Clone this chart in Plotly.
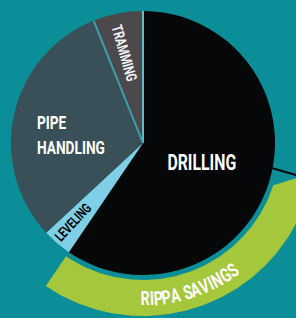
import numpy as np
import plotly.graph_objects as go

# ---- data ----
categories = ["DRILLING", "LEVELING", "PIPE HANDLING", "TRAMMING"]
shares = [59.5, 3.6, 30.8, 6.1]          # % of drilling cycle
savings_label = "RIPPA SAVINGS"
savings_share = [29.5]                   # % of cycle saved (taken off the drilling slice)

# ---- layout constants ----
W, H = 296, 318
CX, CY, R = 143, 143, 132
BG = "#0b8e97"
GREEN = "#a5c73b"
slice_colors = ["#060708", "#7fd0e6", "#3a5058", "#4b494c"]
FONT = "Roboto, sans-serif"
SQ = 0.72   # horizontal squeeze of the lettering (condensed display face)

fig = go.Figure()

fig.add_trace(go.Pie(
    labels=categories, values=shares, sort=False, direction="clockwise", rotation=0,
    marker=dict(colors=slice_colors, line=dict(width=0)),
    textinfo="none", hoverinfo="skip", showlegend=False,
    domain=dict(x=[(CX - R) / W, (CX + R) / W], y=[1 - (CY + R) / H, 1 - (CY - R) / H]),
))

# slice separators (only the two visible ones): drilling|tramming and pipe handling|tramming
cum_deg = np.cumsum(shares) / sum(shares) * 360
for ang, col in [(0.0, "#62bcc8"), (cum_deg[2], "#3aa2ad")]:
    t = np.radians(ang)
    fig.add_shape(type="line", xref="x", yref="y", layer="above",
                  x0=CX, y0=CY, x1=CX + R * np.sin(t), y1=CY - R * np.cos(t),
                  line=dict(color=col, width=2))

# ---- savings band (derived from the shares) ----
end_deg = shares[0] / sum(shares) * 360
start_deg = end_deg - savings_share[0] / 100 * 360
R_IN, R_OUT, CUT = R + 5, R + 41, 8
th_in = np.radians(np.linspace(start_deg, end_deg, 150))
th_out = np.radians(np.linspace(end_deg, start_deg - CUT, 150))
bx = np.concatenate([CX + R_IN * np.sin(th_in), CX + R_OUT * np.sin(th_out)])
by = np.concatenate([CY - R_IN * np.cos(th_in), CY - R_OUT * np.cos(th_out)])
fig.add_trace(go.Scatter(x=bx, y=by, fill="toself", fillcolor=GREEN, mode="lines",
                         line=dict(width=0, color=GREEN), hoverinfo="skip", showlegend=False))

# leader line from pie edge
LEAD = np.radians(101)
x0, y0 = CX + R * np.sin(LEAD), CY - R * np.cos(LEAD)
fig.add_trace(go.Scatter(x=[x0, W], y=[y0, y0 + (W - x0) * 0.29], mode="lines",
                         line=dict(color="#080808", width=2), hoverinfo="skip", showlegend=False))

# ---- slice labels ----
label_style = {
    "DRILLING": dict(x=202, y=162, angle=0, size=22, color="white", anchor="center", wrap=False),
    "PIPE HANDLING": dict(x=35, y=134.5, angle=0, size=19, color="white", anchor="left", wrap=True),
    "TRAMMING": dict(x=124, y=53, angle=74, size=15, color="#f2f2f2", anchor="center", wrap=False),
    "LEVELING": dict(x=73, y=222, angle=-47, size=14, color="black", anchor="center", wrap=False),
}
for cat in categories:
    s = label_style[cat]
    txt = "<br>".join(cat.split(" ")) if s["wrap"] else cat
    fig.add_annotation(x=s["x"], y=s["y"], text=txt, textangle=s["angle"], showarrow=False,
                       xanchor=s["anchor"], yanchor="middle", align=s["anchor"],
                       font=dict(family=FONT, size=s["size"], color=s["color"], weight=700))

# ---- curved savings text ----
char_w = {"R": 0.63, "I": 0.28, "P": 0.63, "A": 0.66, " ": 0.25, "S": 0.61,
          "V": 0.65, "N": 0.71, "G": 0.68}
fs = 19.5
widths = np.array([char_w[c] * fs * SQ for c in savings_label])
R_TXT = (R_IN + R_OUT) / 2 + 1
mid = 162
cum = np.cumsum(widths) - widths / 2 - widths.sum() / 2
angles = mid - np.degrees(cum / R_TXT)
for c, a in zip(savings_label, angles):
    if c == " ":
        continue
    t = np.radians(a)
    fig.add_annotation(x=CX + R_TXT * np.sin(t), y=CY - R_TXT * np.cos(t), text=c,
                       textangle=a - 180, showarrow=False, xanchor="center", yanchor="middle",
                       font=dict(family=FONT, size=fs, color="white", weight=700))

fig.update_xaxes(range=[0, W], visible=False, fixedrange=True)
fig.update_yaxes(range=[H, 0], visible=False, fixedrange=True)
fig.update_layout(width=W, height=H, margin=dict(l=0, r=0, t=0, b=0),
                  paper_bgcolor=BG, plot_bgcolor=BG, showlegend=False)

post = """
document.body.style.margin='0';
(function(){
  var gd = document.getElementById('{plot_id}');
  function squeeze(){
    gd.querySelectorAll('text.annotation-text').forEach(function(t){
      var x = parseFloat(t.getAttribute('x')) || 0;
      t.setAttribute('transform', 'translate(' + x + ',0) scale(%s,1) translate(' + (-x) + ',0)');
    });
  }
  squeeze();
  if (gd.on) { gd.on('plotly_afterplot', squeeze); }
  setTimeout(squeeze, 50);
})();
""" % SQ

fig.write_html("out.html", config={"displayModeBar": False}, post_script=post)
